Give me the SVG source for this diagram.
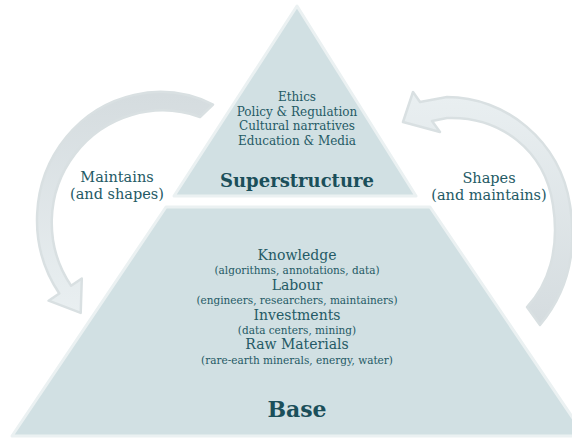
<svg xmlns="http://www.w3.org/2000/svg" width="572" height="439" viewBox="0 0 572 439">
<defs>
<linearGradient id="gl" gradientUnits="userSpaceOnUse" x1="0" y1="95" x2="0" y2="312">
<stop offset="0" stop-color="#d5dcdf"/><stop offset="1" stop-color="#e9eff1"/>
</linearGradient>
<linearGradient id="gr" gradientUnits="userSpaceOnUse" x1="0" y1="325" x2="0" y2="95">
<stop offset="0" stop-color="#d5dcdf"/><stop offset="1" stop-color="#e9eff1"/>
</linearGradient>
<style>
.lvl{fill:#d1e0e3;stroke:#ebf1f2;stroke-width:3;stroke-linejoin:round}
.arr{stroke:#d9e0e2;stroke-width:2.5;stroke-linejoin:round}
text{font-family:"DejaVu Serif","Liberation Serif",serif;fill:#245a65;text-anchor:middle}
.title{font-weight:bold;fill:#1b4f5a}
.item{font-size:12px}
.head{font-size:14px}
.sub{font-size:10.5px}
.lab{font-size:14.5px}
</style>
</defs>
<g id="connectors">
<path id="maintains-arrow" class="arr" fill="url(#gl)" d="M 213 104.5 A 123 128 0 0 0 59.3 293.5 L 48.6 300.7 L 80.7 312.9 L 81.8 278.5 L 71.1 285.7 A 111 112 0 0 1 200 117 Z"/>
<path id="shapes-arrow" class="arr" fill="url(#gr)" d="M 540 325 C 565 295 578 255 570 205 C 560 140 505 97 447 97 L 420 102 L 413 92 L 403 122 L 440 132 L 432 121 L 447 118 C 500 116 545 150 553 205 C 560 250 548 285 527 307 Z"/>
</g>
<g id="superstructure">
<path class="lvl" d="M 297 6 L 416 196 L 174 196 Z"/>
<text class="item" x="297" y="101">Ethics</text>
<text class="item" x="297" y="115.5">Policy &amp; Regulation</text>
<text class="item" x="297" y="130">Cultural narratives</text>
<text class="item" x="297" y="144.5">Education &amp; Media</text>
<text class="title" x="297" y="187" font-size="18">Superstructure</text>
</g>
<g id="base">
<path class="lvl" d="M 166 207 L 430 207 L 585 436 L 12 436 Z"/>
<text class="head" x="297" y="260">Knowledge</text>
<text class="sub" x="297" y="273.5">(algorithms, annotations, data)</text>
<text class="head" x="297" y="290">Labour</text>
<text class="sub" x="297" y="303.5">(engineers, researchers, maintainers)</text>
<text class="head" x="297" y="320">Investments</text>
<text class="sub" x="297" y="333.5">(data centers, mining)</text>
<text class="head" x="297" y="349">Raw Materials</text>
<text class="sub" x="297" y="363.5">(rare-earth minerals, energy, water)</text>
<text class="title" x="297" y="417" font-size="22">Base</text>
</g>
<g id="label-maintains">
<text class="lab" x="117" y="182">Maintains</text>
<text class="lab" x="117" y="199">(and shapes)</text>
</g>
<g id="label-shapes">
<text class="lab" x="489" y="183">Shapes</text>
<text class="lab" x="489" y="200">(and maintains)</text>
</g>
</svg>
